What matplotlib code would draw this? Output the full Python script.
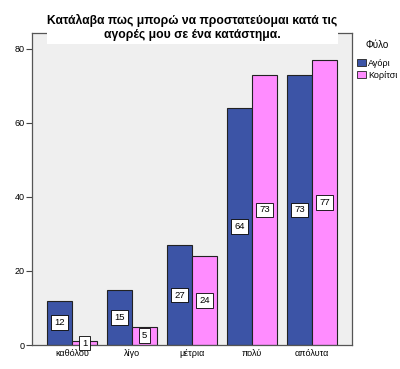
import matplotlib
matplotlib.use('Agg')
import matplotlib.pyplot as plt
import numpy as np

categories = ['καθόλου', 'λίγο', 'μέτρια', 'πολύ', 'απόλυτα']
agori = [12, 15, 27, 64, 73]
koritsi = [1, 5, 24, 73, 77]
series_names = ['Αγόρι', 'Κορίτσι']
colors = ['#3c54a6', '#ff8cff']

plt.rcParams['font.family'] = ['Liberation Sans', 'DejaVu Sans']

fig = plt.figure(figsize=(4, 3.69), dpi=100)
ax = fig.add_axes([0.08, 0.065, 0.8, 0.8455])
ax.set_facecolor('#efefef')

x = np.arange(len(categories))
w = 0.417
for vals, off, col in [(agori, -w / 2, colors[0]), (koritsi, w / 2, colors[1])]:
    bars = ax.bar(x + off, vals, w, color=col, edgecolor='#222222', linewidth=0.8)
    for b, v in zip(bars, vals):
        ax.text(b.get_x() + b.get_width() / 2, v / 2, str(v), ha='center', va='center',
                fontsize=6.8, bbox=dict(boxstyle='square,pad=0.3', fc='white', ec='black', lw=0.6))

ax.set_xlim(-0.667, 4.667)
ax.set_ylim(0, 84.3)
ax.set_yticks([0, 20, 40, 60, 80])
ax.set_xticks(x)
ax.set_xticklabels(categories)
ax.tick_params(axis='x', length=0, labelsize=6.5, pad=3)
ax.tick_params(axis='y', length=4, labelsize=6.5, pad=1, color='#444444')
for s in ax.spines.values():
    s.set_color('#555555')
    s.set_linewidth(0.9)

# white box behind the title, covering the top of the frame
fig.patches.append(plt.Rectangle((0.1175, 0.881), 0.7275, 0.1, transform=fig.transFigure,
                                 fc='white', ec='none', zorder=5))
fig.text(0.48, 0.925, 'Κατάλαβα πως μπορώ να προστατεύομαι κατά τις\nαγορές μου σε ένα κατάστημα.',
         ha='center', va='center', fontsize=8.7, fontweight='bold', linespacing=1.2, zorder=6)

handles = [plt.Rectangle((0, 0), 1, 1, fc=c, ec='#222222', lw=0.6) for c in colors]
leg = fig.legend(handles, series_names, title='Φύλο', loc='upper left',
                 bbox_to_anchor=(0.88, 0.905), frameon=False, fontsize=6.5,
                 title_fontsize=7, handlelength=0.9, handleheight=0.9,
                 handletextpad=0.3, labelspacing=0.3, borderaxespad=0.2)
leg._legend_box.sep = 6

fig.savefig('out.png', dpi=100)
